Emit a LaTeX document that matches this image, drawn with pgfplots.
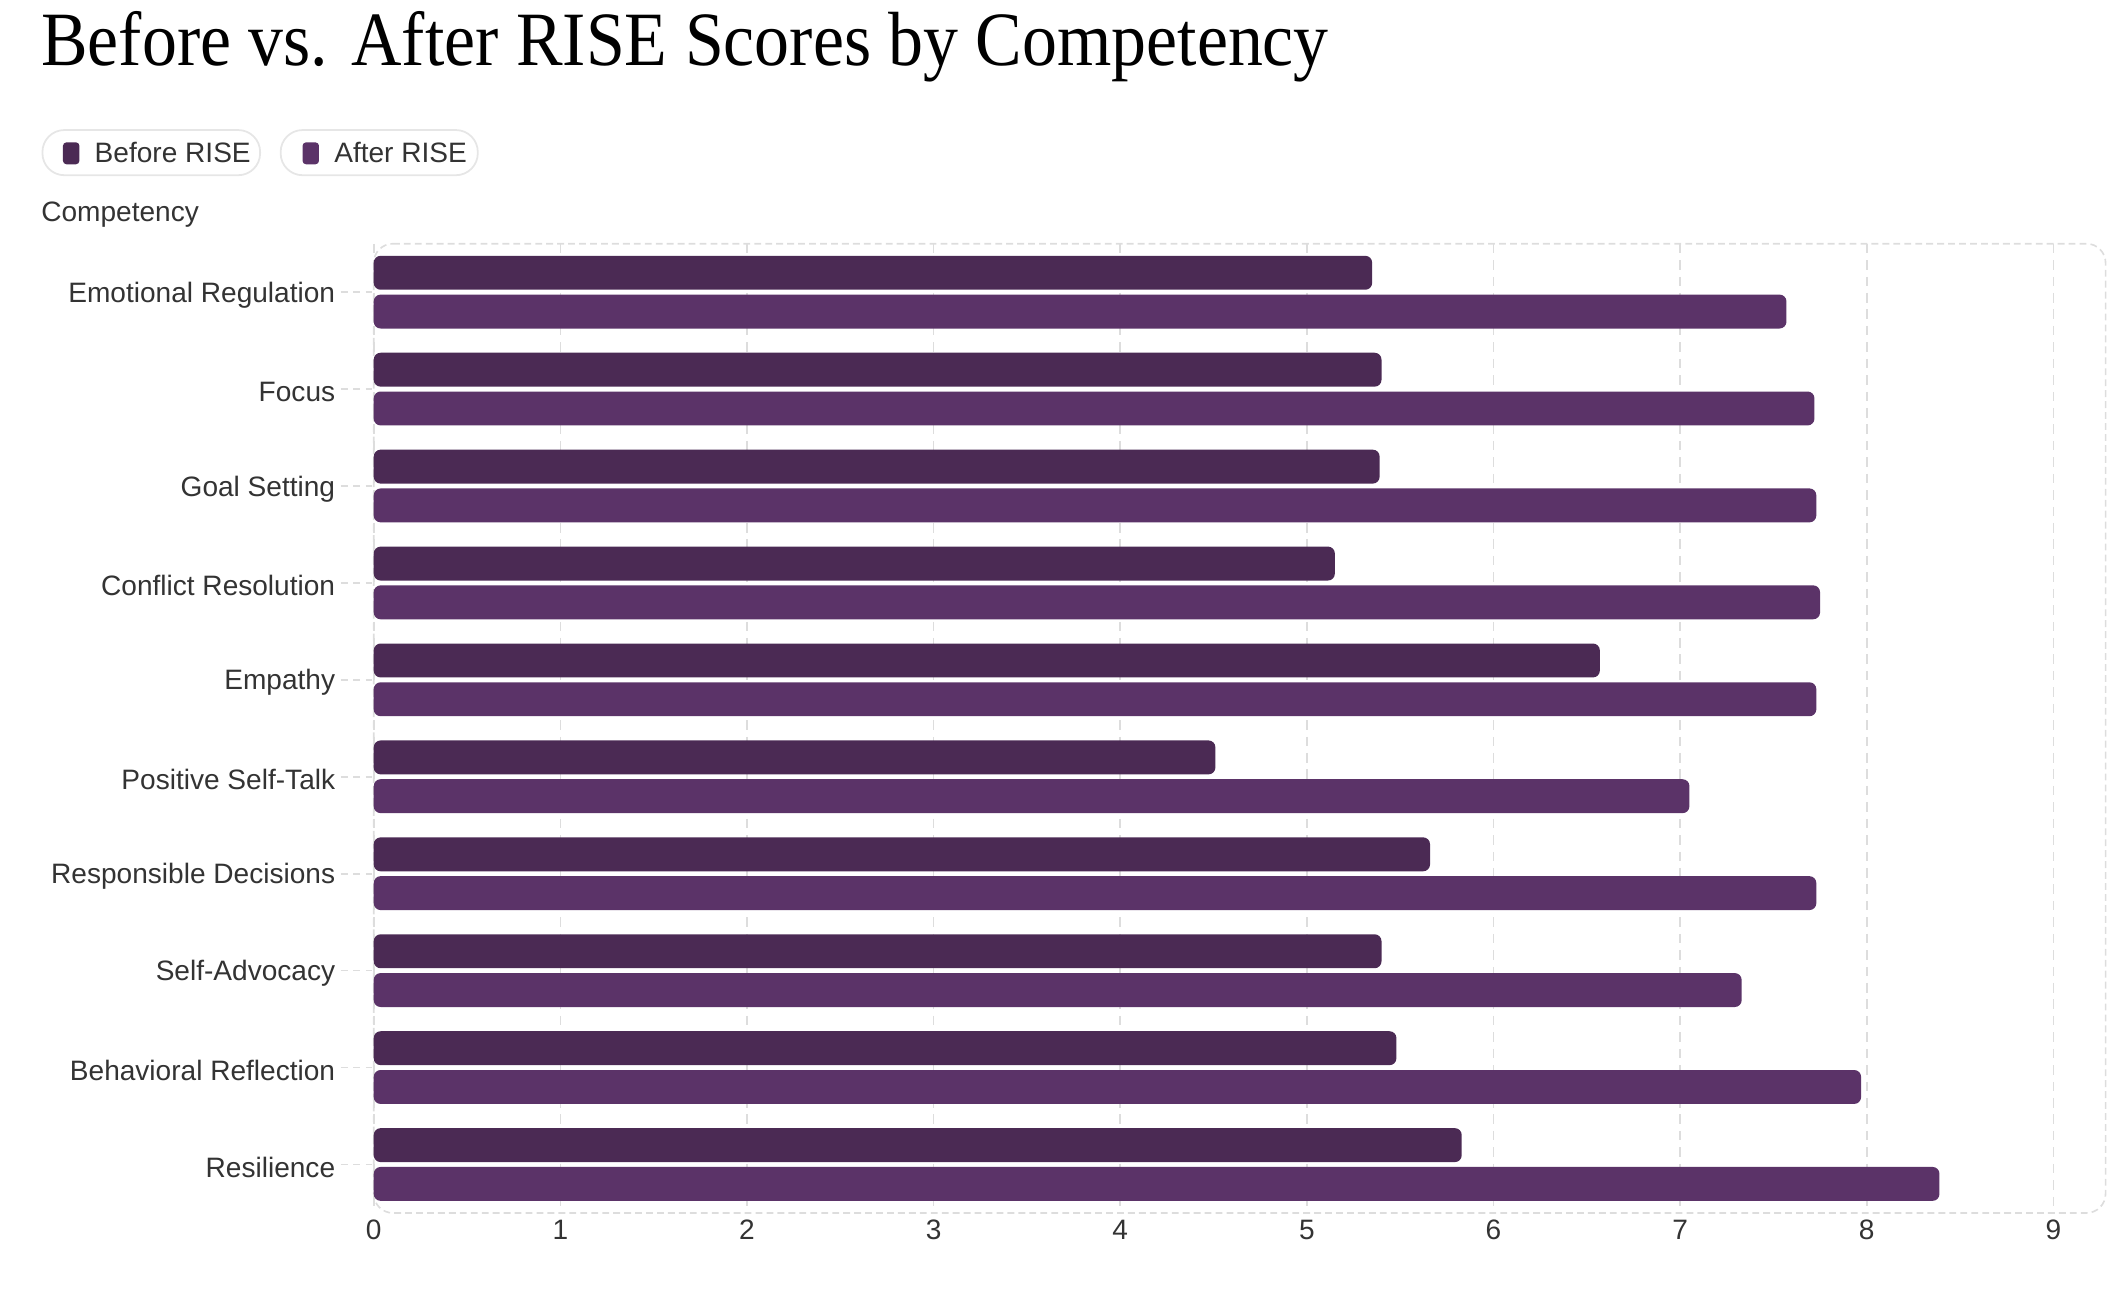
\documentclass[border=0pt]{standalone}
\usepackage{fontspec}
\setmainfont{Liberation Sans}
\newfontfamily\titlefont{Liberation Serif}
\usepackage{pgfplots}
\pgfplotsset{compat=1.18}
\definecolor{before}{HTML}{4B2A54}
\definecolor{after}{HTML}{5B3368}
\definecolor{txt}{HTML}{333333}
\definecolor{gridc}{HTML}{DDDDDD}
\definecolor{pill}{HTML}{E6E6E6}

\pgfplotstableread{
y before after
0 5.35 7.57
1 5.40 7.72
2 5.39 7.73
3 5.15 7.75
4 6.57 7.73
5 4.51 7.05
6 5.66 7.73
7 5.40 7.33
8 5.48 7.97
9 5.83 8.39
}\datatable

\begin{document}
\begin{tikzpicture}
\path[use as bounding box] (0bp,0bp) rectangle (1550bp,941bp);
\node[anchor=base west, inner sep=0pt, font=\titlefont\fontsize{51bp}{60bp}\selectfont] at (30bp,893bp) {\scalebox{1}[1.1]{Before vs. After RISE Scores by Competency}};
% legend
\draw[pill, line width=1.3bp, rounded corners=16bp] (31bp,813bp) rectangle (190bp,846bp);
\fill[before, rounded corners=2.5bp] (46bp,821bp) rectangle (58bp,837bp);
\node[anchor=base west, inner sep=0pt, text=txt, font=\fontsize{20.5bp}{24bp}\selectfont] at (69bp,822bp) {Before RISE};
\draw[pill, line width=1.3bp, rounded corners=16bp] (205bp,813bp) rectangle (349bp,846bp);
\fill[after, rounded corners=2.5bp] (221bp,821bp) rectangle (233bp,837bp);
\node[anchor=base west, inner sep=0pt, text=txt, font=\fontsize{20.5bp}{24bp}\selectfont] at (244bp,822bp) {After RISE};
\node[anchor=base west, inner sep=0pt, text=txt, font=\fontsize{20.5bp}{24bp}\selectfont] at (30bp,779bp) {Competency};
\begin{axis}[
  at={(273bp,55bp)}, anchor=south west,
  width=1265bp, height=708bp, scale only axis,
  xmin=0, xmax=9.28, ymin=-0.5, ymax=9.5, y dir=reverse,
  xbar, bar width=0.35,
  axis line style={draw=none},
  axis background/.style={draw=gridc, line width=1.2bp, dash pattern=on 5bp off 3bp, rounded corners=14bp},
  xmajorgrids, grid style={draw=gridc, line width=1.2bp, dash pattern=on 7bp off 5bp},
  xtick={0,1,...,9},
  ytick={0,1,...,9},
  yticklabels={Emotional Regulation, Focus, Goal Setting, Conflict Resolution, Empathy, Positive Self-Talk, Responsible Decisions, Self-Advocacy, Behavioral Reflection, Resilience},
  tick align=outside,
  tick pos=left,
  major tick length=24bp,
  xtick style={draw=none},
  ytick style={draw=gridc, line width=1.2bp, dash pattern=on 5bp off 4bp},
  ticklabel style={text=txt, font=\fontsize{20.5bp}{24bp}\selectfont},
  /pgf/number format/assume math mode=true,
  yticklabel style={inner sep=0pt, xshift=-4bp, yshift=-2bp},
  xticklabel style={inner sep=0pt, yshift=19bp},
  every axis plot/.append style={draw=none, rounded corners=5bp},
  clip=false,
]
\addplot[fill=before, bar shift=-0.2] table[x=before, y=y] {\datatable};
\addplot[fill=after, bar shift=0.2] table[x=after, y=y] {\datatable};
\end{axis}
\end{tikzpicture}
\end{document}
